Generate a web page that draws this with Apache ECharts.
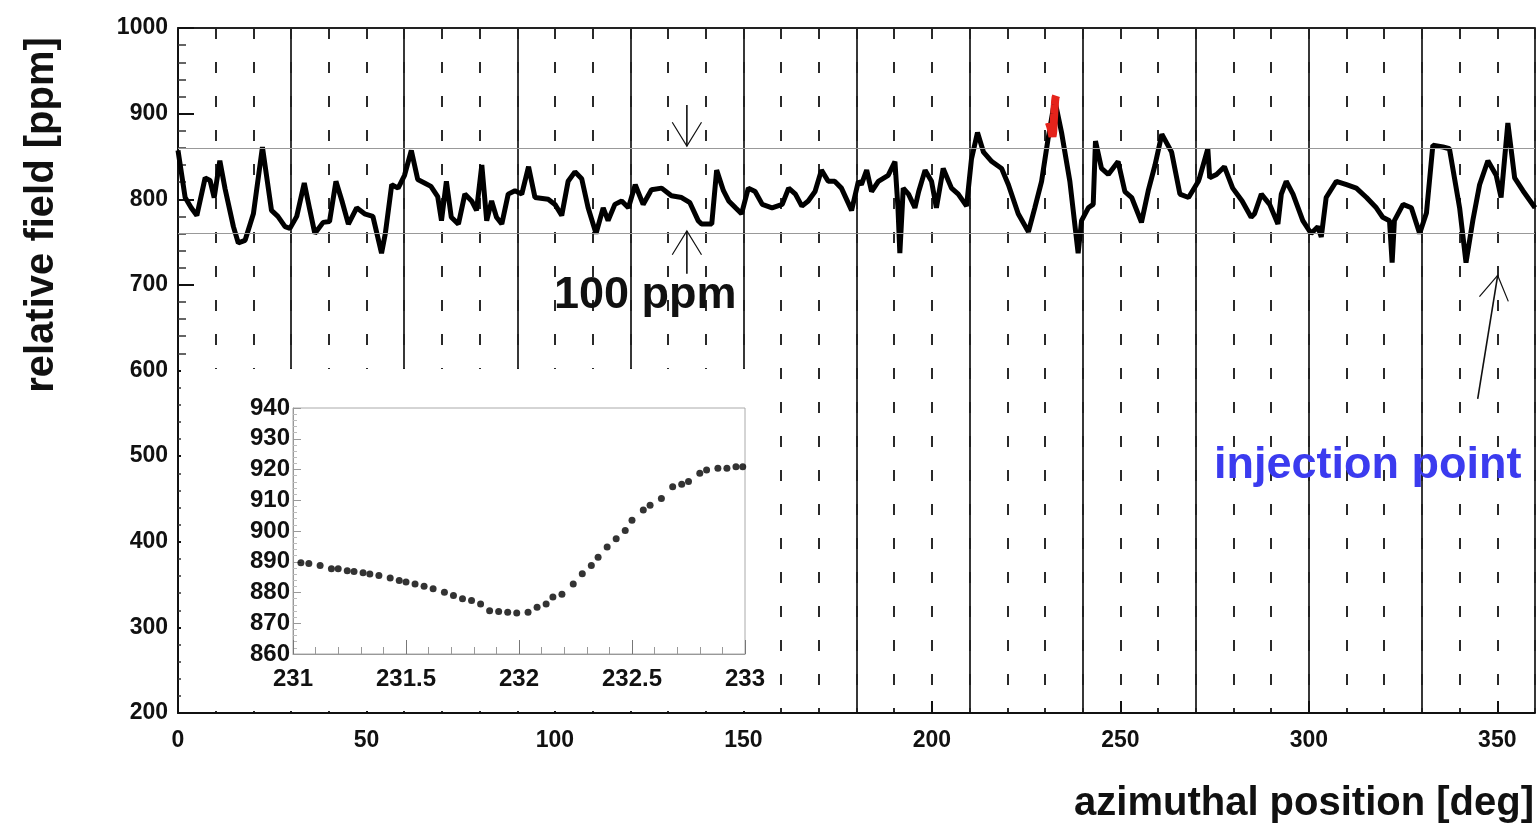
<!DOCTYPE html>
<html>
<head>
<meta charset="utf-8">
<script src="https://cdn.jsdelivr.net/npm/echarts@6/dist/echarts.min.js"></script>
<style>
  html, body { margin: 0; padding: 0; background: #fff; }
  #chart { width: 1538px; height: 835px; }
</style>
</head>
<body>
<div id="chart"></div>
<script>
// azimuthal scan of the field
const angleDeg = [0, 1.9, 3.5, 5, 7.2, 8.5, 9.6, 11.1, 12.5, 14.7, 16, 17.8, 20, 22.4, 24.8, 26.5, 28.4, 29.7,
  31.5, 33.5, 35, 36.3, 38.5, 40.2, 41.9, 43.5, 45.2, 47.4, 49.5, 51.7, 54, 55, 56.7, 58.4, 60.1, 61.9,
  63.6, 65.4, 67.1, 68.9, 69.9, 71.2, 72.5, 74.4, 76.1, 77.9, 79.2, 80.6, 81.9, 83.2, 84.5, 85.9, 87.6, 89.4,
  91.2, 93, 94.7, 98.2, 100, 101.8, 103.5, 105.3, 107.1, 108.8, 110.9, 112.8, 114.1, 115.9, 117.7, 119.5,
  121.3, 123.4, 125.6, 128.3, 130.9, 133.6, 135.8, 138, 138.9, 141.6, 142.9, 144.7, 146.1, 147.9, 149.5,
  151.3, 153.1, 155, 157.6, 160.3, 162, 163.8, 165.5, 167.2, 169, 170.7, 172.5, 174.2, 176, 178.7,
  180.5, 181.3, 182.7, 184, 185.8, 188.4, 190.2, 191, 191.5, 192.4, 193.8, 195.5, 196.5, 198.2, 199.9,
  201.2, 203, 205.2, 207, 209.2, 210.5, 212.1, 213.7, 215.9, 218.5, 220.3, 222.9, 225.6, 227.3, 229.1,
  230.8, 232.6, 234.4, 236.6, 238.8, 239.7, 241.5, 242.8, 243.4, 245, 246.8, 249.4, 251.2, 253, 255.6,
  257.4, 259.2, 261, 263.6, 265.8, 268.1, 270.7, 271, 273.2, 273.7, 275.5, 277.6, 279.8, 282.3, 284.7,
  285.6, 287.4, 289.6, 291.8, 292.7, 294, 295.8, 298.4, 300.6, 302.4, 303.3, 304.6, 307.3, 310, 312.6,
  315.3, 317.9, 319.6, 321.4, 322.1, 322.7, 325, 327.2, 329.4, 331.2, 332.9, 335.6, 337.3, 340, 341.7,
  343.5, 345.3, 347.5, 349.7, 351, 352.8, 354.6, 356.8, 360];
const fieldPpm = [857, 802, 790, 781, 825, 822, 802, 845, 812, 768, 749, 752, 783, 861, 787, 780, 768, 766,
  780, 819, 787, 760, 773, 774, 821, 798, 771, 790, 783, 780, 737, 760, 817, 813, 828, 857,
  823, 819, 815, 803, 775, 821, 779, 771, 806, 798, 787, 840, 775, 798, 779, 771, 806, 810,
  806, 838, 802, 800, 794, 781, 821, 832, 824, 790, 760, 790, 775, 794, 798, 790,
  817, 794, 811, 813, 804, 802, 796, 775, 771, 771, 834, 810, 798, 790, 783,
  813, 809, 794, 790, 794, 813, 806, 792, 798, 809, 834, 821, 821, 813, 787,
  821, 817, 834, 809, 821, 828, 844, 790, 737, 813, 806, 790, 809, 834, 821,
  790, 836, 813, 806, 792, 847, 878, 855, 844, 836, 817, 783, 762, 790, 821,
  870, 916, 878, 821, 737, 775, 790, 794, 868, 836, 829, 844, 809, 802, 773,
  810, 840, 876, 855, 806, 802, 821, 825, 859, 825, 829, 838, 813, 798, 779,
  783, 806, 794, 771, 806, 821, 806, 775, 760, 768, 756, 802, 821, 817, 813,
  802, 790, 779, 775, 726, 775, 794, 790, 760, 784, 863, 861, 859, 790, 726,
  775, 817, 845, 828, 802, 889, 825, 810, 790];

// zoomed-in scan around 231-233 deg (inset, red on the main plot)
const insetDeg = [231.035, 231.07, 231.12, 231.17, 231.2, 231.24, 231.27, 231.31, 231.34, 231.38, 231.43,
  231.47, 231.5, 231.54, 231.58, 231.62, 231.67, 231.71, 231.75, 231.79, 231.83, 231.87, 231.91, 231.95,
  231.99, 232.04, 232.08, 232.12, 232.15, 232.19, 232.24, 232.28, 232.32, 232.35, 232.39, 232.43, 232.47,
  232.5, 232.55, 232.58, 232.63, 232.68, 232.72, 232.75, 232.8, 232.83, 232.88, 232.92, 232.96, 232.99];
const insetPpm = [889.7, 889.4, 888.8, 887.7, 887.7, 887.1, 886.8, 886.4, 886.0, 885.5, 884.7,
  883.9, 883.4, 882.8, 882.0, 881.2, 880.1, 879.0, 878.0, 877.4, 876.3, 874.1, 873.8, 873.6,
  873.3, 873.6, 875.2, 876.3, 878.5, 879.4, 882.8, 886.1, 888.8, 891.5, 894.8, 897.5, 900.2,
  903.5, 906.8, 908.4, 910.6, 914.4, 915.2, 916.1, 918.8, 919.8, 920.4, 920.4, 920.9, 920.9];

const bandLines = [860, 760];
const yTicks = [200, 1000];
const insetYRange = [860, 940];
const insetXRange = [231, 233];

const font = '"Liberation Sans", Arial, sans-serif';

function pairs(xs, ys) {
  return xs.map(function (x, i) { return [x, ys[i]]; });
}
function plain(v) { return String(v); }

let myChart = echarts.init(document.getElementById('chart'));

let option = {
  backgroundColor: '#fff',
  animation: false,
  grid: [
    { left: 178, right: 3, top: 28, bottom: 122 },
    { left: 293, top: 408, width: 452, height: 246, z: 3, show: true,
      borderColor: '#aaa', borderWidth: 1, backgroundColor: 'transparent' }
  ],
  xAxis: [
    { // labels every 50
      type: 'value', gridIndex: 0, min: 0, max: 360, interval: 50, position: 'bottom',
      axisLine: { show: true, lineStyle: { color: '#111', width: 2 } },
      axisTick: { show: true, inside: true, length: 12, lineStyle: { color: '#111', width: 2 } },
      axisLabel: { fontFamily: font, fontWeight: 'bold', fontSize: 23, color: '#111', margin: 16,
        showMaxLabel: false, formatter: plain },
      splitLine: { show: false }
    },
    { // dashed lines every 10
      type: 'value', gridIndex: 0, min: 0, max: 360, interval: 10, position: 'bottom',
      axisLine: { show: false }, axisTick: { show: false }, axisLabel: { show: false },
      splitLine: { show: true, lineStyle: { color: '#2a2a2a', width: 2, type: [11, 23] } }
    },
    { // solid lines every 30, also the top frame
      type: 'value', gridIndex: 0, min: 0, max: 360, interval: 30, position: 'top',
      axisLine: { show: true, lineStyle: { color: '#222', width: 2 } },
      axisTick: { show: false }, axisLabel: { show: false },
      splitLine: { show: true, lineStyle: { color: '#222', width: 1.8 } }
    },
    { // inset
      type: 'value', gridIndex: 1, min: insetXRange[0], max: insetXRange[1], interval: 0.5, z: 3,
      axisLine: { show: true, lineStyle: { color: '#999', width: 1 } },
      axisTick: { show: true, inside: true, length: 14, lineStyle: { color: '#777' } },
      minorTick: { show: true, splitNumber: 5, length: 7, lineStyle: { color: '#999' } },
      axisLabel: { fontFamily: font, fontWeight: 'bold', fontSize: 24, color: '#111', margin: 13,
        formatter: plain },
      splitLine: { show: false }
    }
  ],
  yAxis: [
    {
      type: 'value', gridIndex: 0, min: yTicks[0], max: yTicks[1], interval: 100,
      axisLine: { show: true, lineStyle: { color: '#111', width: 2 } },
      axisTick: { show: true, inside: true, length: 16, lineStyle: { color: '#111', width: 2 } },
      minorTick: { show: true, splitNumber: 5, length: 8, lineStyle: { color: '#333', width: 1.5 } },
      axisLabel: { fontFamily: font, fontWeight: 'bold', fontSize: 23, color: '#111', margin: 10,
        formatter: plain },
      splitLine: { show: false }
    },
    {
      type: 'value', gridIndex: 1, min: insetYRange[0], max: insetYRange[1], interval: 10, z: 3,
      axisLine: { show: true, lineStyle: { color: '#999', width: 1 } },
      axisTick: { show: true, inside: true, length: 8, lineStyle: { color: '#999' } },
      minorTick: { show: true, splitNumber: 5, length: 4, lineStyle: { color: '#bbb' } },
      axisLabel: { fontFamily: font, fontWeight: 'bold', fontSize: 24, color: '#111', margin: 3,
        formatter: plain },
      splitLine: { show: false }
    }
  ],
  series: [
    {
      name: 'field', type: 'line', xAxisIndex: 0, yAxisIndex: 0,
      data: pairs(angleDeg, fieldPpm), showSymbol: false, z: 2,
      lineStyle: { color: '#000', width: 5 },
      markLine: {
        silent: true, symbol: 'none', label: { show: false },
        lineStyle: { color: '#999', width: 1, type: 'solid' },
        data: bandLines.map(function (v) { return { yAxis: v }; })
      }
    },
    {
      name: 'zoom', type: 'line', xAxisIndex: 0, yAxisIndex: 0,
      data: pairs(insetDeg, insetPpm), showSymbol: false, z: 3,
      lineStyle: { color: '#e5231b', width: 8 }
    },
    {
      name: 'inset', type: 'scatter', xAxisIndex: 3, yAxisIndex: 1,
      data: pairs(insetDeg, insetPpm), symbol: 'circle', symbolSize: 7, z: 5,
      itemStyle: { color: '#000' }
    }
  ]
};
myChart.setOption(option);

// arrows in data coordinates -> pixels
function arrow(from, to) {
  let p1 = myChart.convertToPixel({ xAxisIndex: 0, yAxisIndex: 0 }, from);
  let p2 = myChart.convertToPixel({ xAxisIndex: 0, yAxisIndex: 0 }, to);
  let a = Math.atan2(p2[1] - p1[1], p2[0] - p1[0]);
  let len = 28, spread = 0.55;
  let h1 = [p2[0] - len * Math.cos(a - spread), p2[1] - len * Math.sin(a - spread)];
  let h2 = [p2[0] - len * Math.cos(a + spread), p2[1] - len * Math.sin(a + spread)];
  return [
    { type: 'polyline', z: 10, shape: { points: [p1, p2] }, style: { stroke: '#111', lineWidth: 1.6, fill: null } },
    { type: 'polyline', z: 10, shape: { points: [h1, p2, h2] }, style: { stroke: '#111', lineWidth: 1.2, fill: null } }
  ];
}

let graphics = [
  // white patch behind the inset
  { type: 'rect', z: 1, shape: { x: 181, y: 369, width: 584, height: 342 }, style: { fill: '#fff' } },
  { type: 'text', z: 10, left: 554, top: 273,
    style: { text: '100 ppm', font: 'bold 45px ' + font, fill: '#111' } },
  { type: 'text', z: 10, left: 1214, top: 443,
    style: { text: 'injection point', font: 'bold 45px ' + font, fill: '#3b3bef' } },
  { type: 'text', z: 10, right: 4, top: 784,
    style: { text: 'azimuthal position [deg]', font: 'bold 40px ' + font, fill: '#111' } },
  { type: 'text', z: 10, x: 42, y: 215, rotation: Math.PI / 2,
    style: { text: 'relative field [ppm]', font: 'bold 40px ' + font, fill: '#111',
      textAlign: 'center', textVerticalAlign: 'middle' } }
];
graphics = graphics.concat(arrow([135, 910], [135, 862]));
graphics = graphics.concat(arrow([135, 713], [135, 763]));
graphics = graphics.concat(arrow([344.8, 567], [350.1, 711]));

myChart.setOption({ graphic: graphics });
</script>
</body>
</html>
